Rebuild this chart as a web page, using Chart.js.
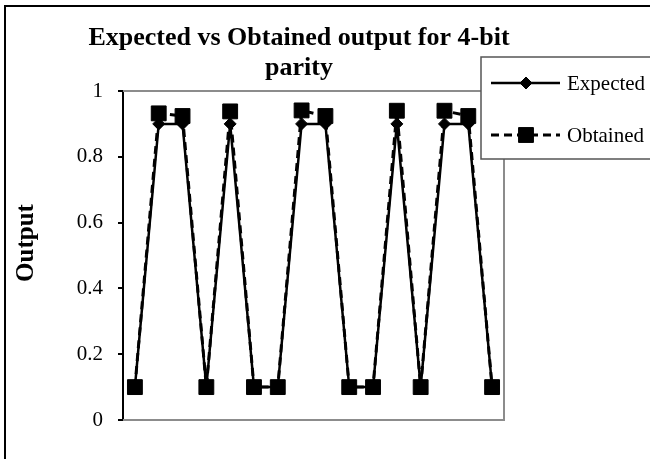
<!DOCTYPE html>
<html>
<head>
<meta charset="utf-8">
<script src="https://cdn.jsdelivr.net/npm/chart.js@4/dist/chart.umd.min.js"></script>
<style>
  html, body { margin: 0; padding: 0; background: #fff; overflow: hidden; }
  canvas { display: block; }
</style>
</head>
<body>
<canvas id="chart" width="650" height="459"></canvas>
<script>
const titleLines = ['Expected vs Obtained output for 4-bit', 'parity']
const yTitle = 'Output'
const inputs = ['0000', '0001', '0010', '0011', '0100', '0101', '0110', '0111',
  '1000', '1001', '1010', '1011', '1100', '1101', '1110', '1111']
const expected = [0.1, 0.9, 0.9, 0.1, 0.9, 0.1, 0.1, 0.9, 0.9, 0.1, 0.1, 0.9, 0.1, 0.9, 0.9, 0.1]
const obtained = [0.1, 0.932, 0.924, 0.1, 0.938, 0.1, 0.1, 0.941, 0.924, 0.1, 0.1, 0.94, 0.1, 0.94, 0.924, 0.1]
const seriesNames = ['Expected', 'Obtained']

const serif = "'Liberation Serif', 'Times New Roman', serif"

// outer frame, titles, plot border, legend box
const decor = {
  id: 'decor',
  beforeDraw (chart) {
    const ctx = chart.ctx
    ctx.save()
    ctx.fillStyle = '#fff'
    ctx.fillRect(0, 0, chart.width, chart.height)
    ctx.strokeStyle = '#000'
    ctx.lineWidth = 2
    ctx.strokeRect(5, 6, chart.width + 10, chart.height + 10)

    ctx.fillStyle = '#000'
    ctx.font = 'bold 26px ' + serif
    ctx.textAlign = 'center'
    ctx.textBaseline = 'alphabetic'
    ctx.fillText(titleLines[0], 299, 45)
    ctx.fillText(titleLines[1], 299, 75)

    ctx.translate(27, 243)
    ctx.rotate(-Math.PI / 2)
    ctx.font = 'bold 25px ' + serif
    ctx.textBaseline = 'middle'
    ctx.fillText(yTitle, 0, 0)
    ctx.restore()
  },
  beforeDatasetsDraw (chart) {
    const { left, right, top, bottom } = chart.chartArea
    const ctx = chart.ctx
    ctx.save()
    ctx.strokeStyle = '#8c8c8c'
    ctx.lineWidth = 2
    ctx.beginPath()
    ctx.moveTo(left, top)
    ctx.lineTo(right, top)
    ctx.lineTo(right, bottom)
    ctx.lineTo(left, bottom)
    ctx.stroke()
    ctx.restore()
  },
  afterDraw (chart) {
    const ctx = chart.ctx
    ctx.save()
    ctx.fillStyle = '#fff'
    ctx.fillRect(481, 57, 200, 102)
    ctx.strokeStyle = '#555'
    ctx.lineWidth = 1.5
    ctx.strokeRect(481, 57, 200, 102)

    const rows = [83, 135]
    chart.data.datasets.forEach((ds, i) => {
      const y = rows[i]
      ctx.strokeStyle = '#000'
      ctx.lineWidth = ds.borderWidth
      ctx.setLineDash(ds.borderDash || [])
      ctx.beginPath()
      ctx.moveTo(491, y)
      ctx.lineTo(560, y)
      ctx.stroke()
      ctx.setLineDash([])
      ctx.fillStyle = '#000'
      ctx.lineWidth = ds.pointBorderWidth
      Chart.helpers.drawPoint(ctx, {
        pointStyle: ds.pointStyle,
        radius: ds.pointRadius,
        rotation: 0,
        borderWidth: ds.pointBorderWidth
      }, 526, y)
      ctx.font = '21px ' + serif
      ctx.textAlign = 'left'
      ctx.textBaseline = 'middle'
      ctx.fillText(ds.label, 567, y + 1)
    })
    ctx.restore()
  }
}

const ctx = document.getElementById('chart').getContext('2d')

new Chart(ctx, {
  type: 'line',
  data: {
    labels: inputs,
    datasets: [
      {
        label: seriesNames[0],
        data: expected,
        borderColor: '#000',
        backgroundColor: '#000',
        borderWidth: 2.5,
        pointStyle: 'rectRot',
        pointRadius: 6,
        pointBorderWidth: 1,
        tension: 0,
        order: 1
      },
      {
        label: seriesNames[1],
        data: obtained,
        borderColor: '#000',
        backgroundColor: '#000',
        borderWidth: 3,
        borderDash: [8, 5],
        pointStyle: 'rect',
        pointRadius: 10.5,
        pointBorderWidth: 1,
        tension: 0,
        order: 0
      }
    ]
  },
  options: {
    responsive: false,
    animation: false,
    events: [],
    clip: false,
    layout: { padding: { top: 91, right: 146, bottom: 39, left: 0 } },
    plugins: {
      legend: { display: false },
      title: { display: false },
      tooltip: { enabled: false }
    },
    scales: {
      x: {
        type: 'category',
        display: false,
        offset: true
      },
      y: {
        min: 0,
        max: 1,
        afterFit (scale) { scale.width = 123 },
        border: { display: true, color: '#000', width: 2 },
        grid: {
          drawOnChartArea: false,
          drawTicks: true,
          tickLength: 5,
          color: '#000',
          lineWidth: 2
        },
        ticks: {
          stepSize: 0.2,
          padding: 15,
          color: '#000',
          font: { family: serif, size: 21 },
          callback: (v) => String(Number(v.toFixed(1)))
        }
      }
    }
  },
  plugins: [decor]
})
</script>
</body>
</html>
